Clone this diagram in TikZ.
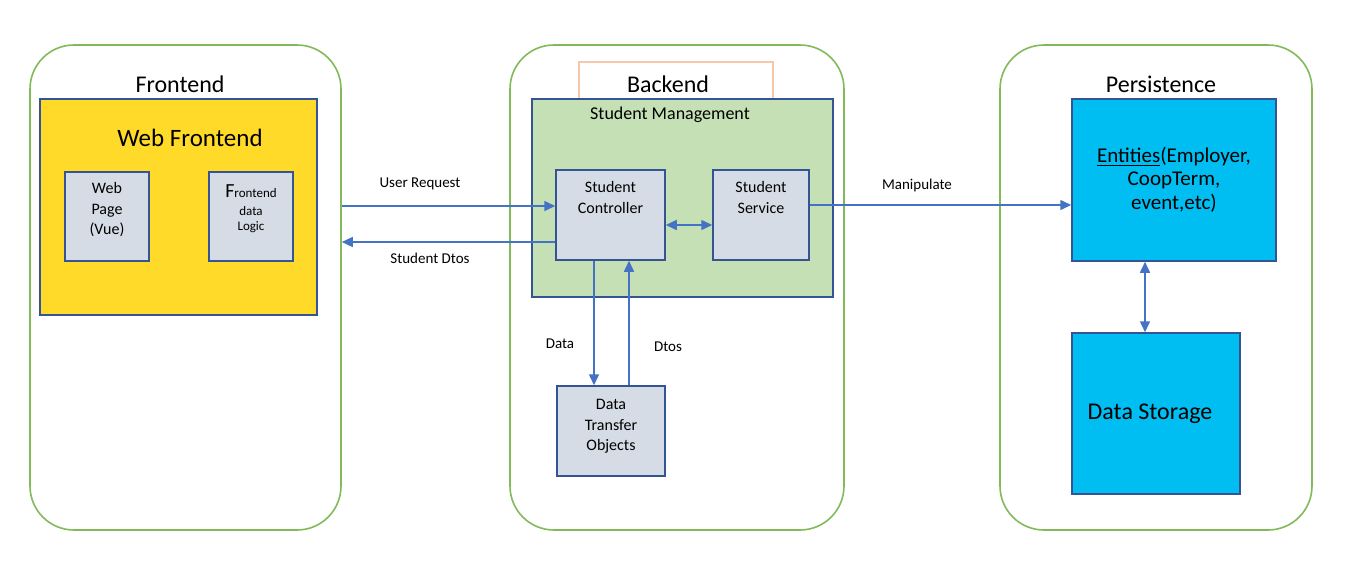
\documentclass[tikz,border=0pt]{standalone}
\usepackage{fontspec}
\setmainfont{Carlito}
\usepackage{tikz}
\usetikzlibrary{arrows.meta, calc, positioning}
\definecolor{layergreen}{RGB}{130,186,90}
\definecolor{boxblue}{RGB}{52,84,150}
\definecolor{arrowblue}{RGB}{68,114,196}
\definecolor{partgray}{RGB}{214,220,229}
\definecolor{webyellow}{RGB}{255,218,41}
\definecolor{mgmtgreen}{RGB}{197,224,180}
\definecolor{dbcyan}{RGB}{0,190,242}
\definecolor{tagorange}{RGB}{246,200,170}
\tikzset{%
    layer/.style={%
        rectangle,
        draw=layergreen, line width=0.8pt,
        rounded corners=22pt,
        minimum height=242.5pt,
    },
    title/.style={%
        font=\fontsize{12}{13}\selectfont,
        inner sep=0pt,
    },
    component/.style={%
        rectangle,
        draw=boxblue, line width=0.75pt,
    },
    part/.style={%
        component,
        fill=partgray,
    },
    boxtext/.style={%
        font=\fontsize{8}{10.2}\selectfont,
        align=center,
        inner sep=0pt,
    },
    lbl/.style={%
        font=\fontsize{7.5}{9}\selectfont,
        inner sep=0pt,
    },
    edge/.style={%
        ->,
        >={Triangle[length=5.5pt, width=5pt]},
        draw=arrowblue, line width=0.75pt,
    },
}

\begin{document}
\begin{tikzpicture}[x=0.5pt, y=-0.5pt]
	\useasboundingbox (0,0) rectangle (1350,563);

	% layers
	\node [layer, minimum width=155.5pt] at (185.5,287.5) (frontend) {};
	\node [layer, minimum width=167pt] at (677,287.5) (backend) {};
	\node [layer, minimum width=156pt] at (1156,287.5) (persistence) {};

	\node [title] at (180,84) (frontend_t) {Frontend};
	\node [title] at (1161,84) (persistence_t) {Persistence};

	% frontend
	\node [component, fill=webyellow, minimum width=138.5pt, minimum height=108pt] at (178.5,207) (web) {};
	\node [title, font=\fontsize{12.5}{14}\selectfont] at (190,138) (web_t) {Web Frontend};
	\node [part, minimum width=42pt, minimum height=44.5pt] at (107,216.5) (page) {};
	\node [part, minimum width=42pt, minimum height=44.5pt] at (251,216.5) (logic) {};
	\node [boxtext, below=5.5pt of page.north] (page_t) {Web\\Page\\(Vue)};
	\node [boxtext, font=\fontsize{6.5}{7.5}\selectfont, below=6.5pt of logic.north] (logic_t)
		{{\fontsize{10}{10}\selectfont F}rontend\\[1.5pt]data\\Logic};

	% backend
	\node [rectangle, draw=tagorange, line width=0.6pt, fill=white, minimum width=97pt, minimum height=18.5pt] at (676,80.5) (backend_tag) {};
	\node [title] at (668,84) (backend_t) {Backend};
	\node [component, fill=mgmtgreen, minimum width=150.5pt, minimum height=99pt] at (682.5,198) (mgmt) {};
	\node [title, font=\fontsize{9}{10}\selectfont] at (670,115) (mgmt_t) {Student Management};
	\node [part, minimum width=54.5pt, minimum height=45pt] at (610.5,215) (controller) {};
	\node [part, minimum width=48pt, minimum height=45pt] at (761,215) (service) {};
	\node [part, minimum width=54pt, minimum height=45pt] at (611,431) (dto) {};
	\node [boxtext, below=6pt of controller.north] (controller_t) {Student\\Controller};
	\node [boxtext, below=6pt of service.north] (service_t) {Student\\Service};
	\node [boxtext, below=7pt of dto.north] (dto_t) {Data\\Transfer\\Objects};

	% persistence
	\node [component, fill=dbcyan, minimum width=102pt, minimum height=81pt] at (1174,180) (entities) {};
	\node [boxtext, font=\fontsize{10.5}{11.7}\selectfont] at (1174,179.5) (entities_t) {\underline{Entities}(Employer,\\CoopTerm,\\event,etc)};
	\node [component, fill=dbcyan, minimum width=84pt, minimum height=80.5pt] at (1156,413.5) (storage) {};
	\node [title] at (1150,414) (storage_t) {Data Storage};

	% connectors
	\coordinate (req_in) at ($(controller.west) + (0, 4.5pt)$);
	\coordinate (dtos_out) at ($(controller.west) + (0, -13.5pt)$);
	\coordinate (ctrl_srv) at ($(controller.east) + (0, -5pt)$);
	\coordinate (srv_out) at ($(service.east) + (0, 5pt)$);
	\coordinate (data_out) at ($(controller.south) + (-8.25pt, 0)$);
	\coordinate (dtos_in) at ($(controller.south) + (9.25pt, 0)$);
	\coordinate (ent_store) at ($(entities.south) + (-14.5pt, 0)$);

	\draw[edge] (frontend.east |- req_in) -- (req_in);
	\draw[edge] (dtos_out) -- (frontend.east |- dtos_out);
	\draw[edge, <->] (ctrl_srv) -- (service.west |- ctrl_srv);
	\draw[edge] (srv_out) -- (entities.west |- srv_out);
	\draw[edge] (data_out) -- (dto.north -| data_out);
	\draw[edge] (dto.north -| dtos_in) -- (dtos_in);
	\draw[edge, <->] (ent_store) -- (storage.north -| ent_store);

	\node [lbl] at (420,184) (req_l) {User Request};
	\node [lbl] at (430,258) (dtos_l) {Student Dtos};
	\node [lbl] at (917,185) (manip_l) {Manipulate};
	\node [lbl] at (560,344) (data_l) {Data};
	\node [lbl] at (668,347) (dtos2_l) {Dtos};
\end{tikzpicture}
\end{document}
